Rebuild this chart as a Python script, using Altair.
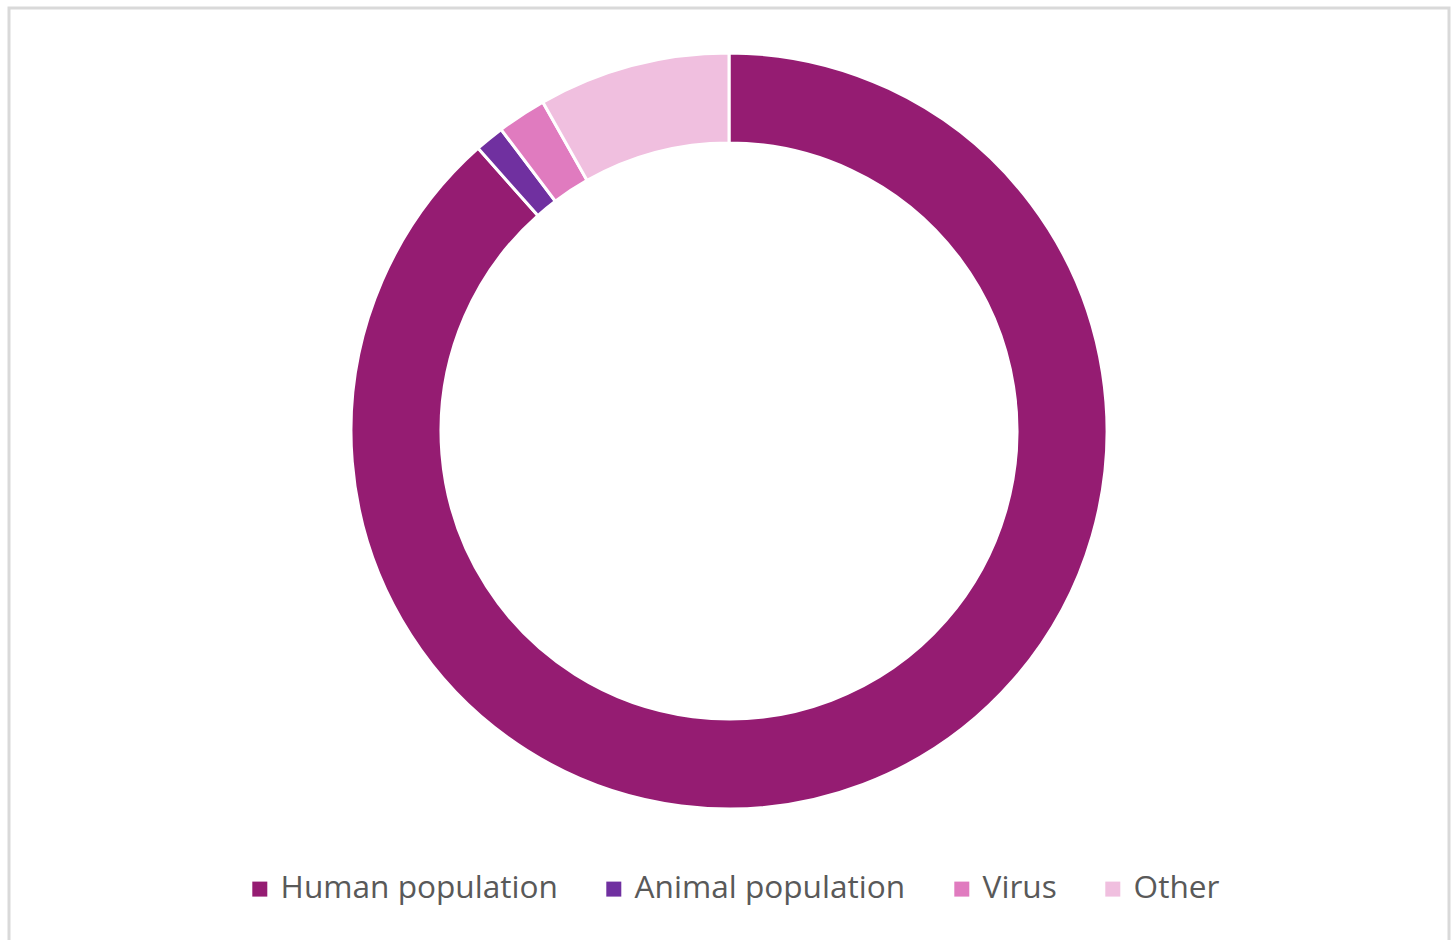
import altair as alt
import pandas as pd

categories = ["Human population", "Animal population", "Virus", "Other"]
values = [88.45, 1.25, 2.1, 8.2]
colors = ["#951C72", "#7030A0", "#E07BBF", "#F0BFDF"]

df = pd.DataFrame({"category": categories, "value": values, "idx": list(range(len(categories)))})

arcs = alt.Chart(df).mark_arc(
    innerRadius=288, outerRadius=378, stroke="white", strokeWidth=3
).encode(
    theta=alt.Theta("value:Q", stack=True),
    order=alt.Order("idx:Q", sort="ascending"),
    color=alt.Color(
        "category:N",
        scale=alt.Scale(domain=categories, range=colors),
        legend=alt.Legend(
            title=None,
            orient="none",
            legendX=244,
            legendY=873,
            direction="horizontal",
            columns=4,
            columnPadding=40,
            symbolType="square",
            symbolSize=225,
            symbolStrokeWidth=0,
            labelOffset=5,
            labelFont="Open Sans",
            labelFontSize=31.6,
            labelColor="#595959",
            labelLimit=400,
            padding=0,
        ),
    ),
    x=alt.value(729),
    y=alt.value(431),
)

border = alt.Chart(pd.DataFrame({"a": [0]})).mark_rect(
    fill=None, stroke="#d9d9d9", strokeWidth=3
).encode(
    x=alt.value(9), x2=alt.value(1449), y=alt.value(8), y2=alt.value(1000)
)

chart = alt.layer(border, arcs).properties(
    width=1456, height=940, padding=0, autosize=alt.AutoSizeParams(type="none")
).configure_view(stroke=None)

chart.save("out.html", embed_options={"renderer": "svg", "actions": False})
